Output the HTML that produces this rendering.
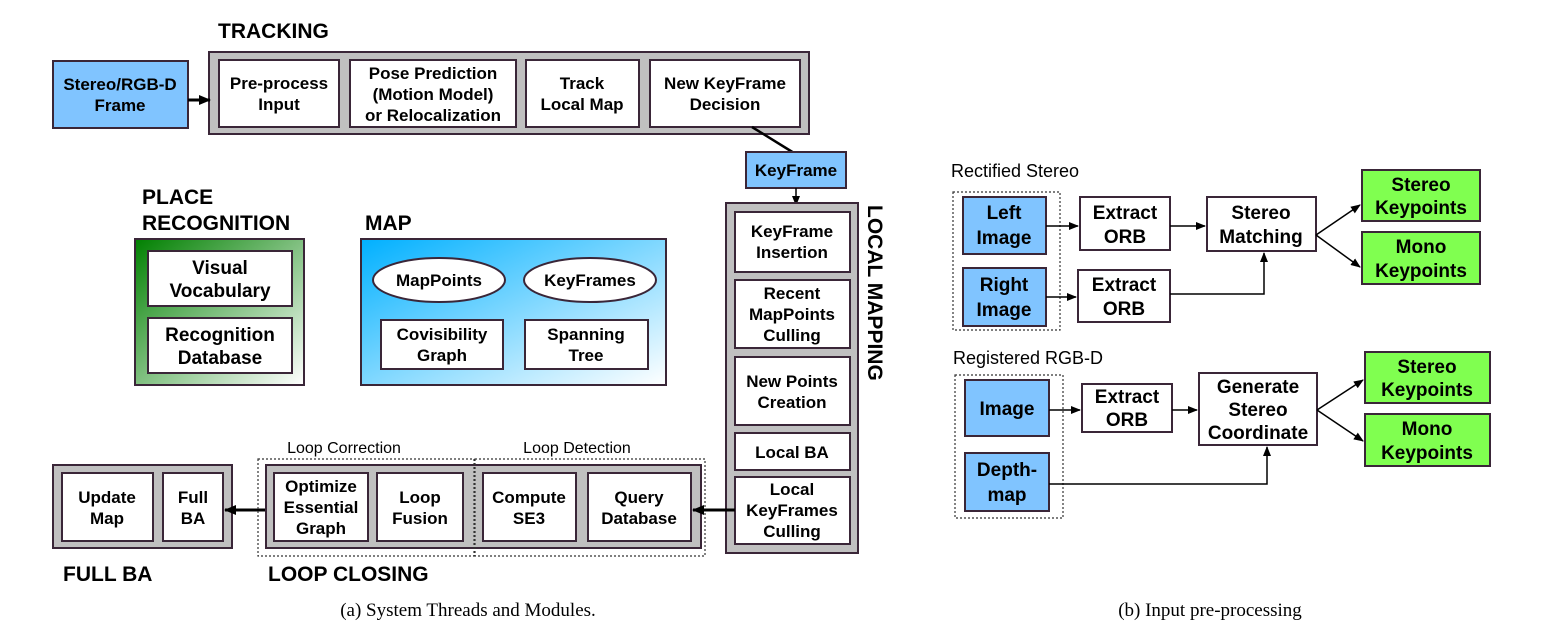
<!DOCTYPE html>
<html><head><meta charset="utf-8"><style>
body{margin:0;background:#fff}
svg text{font-family:"Liberation Sans",sans-serif}
.b{font-weight:bold;font-size:17px;text-anchor:middle}
.r{font-weight:bold;font-size:19px;text-anchor:middle}
.h{font-weight:bold;font-size:21px}
.w{fill:#fff;stroke:#3a2638;stroke-width:2}
.g{fill:#c0c0c0;stroke:#3a2638;stroke-width:2}
.bl{fill:#80c4ff;stroke:#3a2638;stroke-width:2}
.gr{fill:#80ff50;stroke:#3a2638;stroke-width:2}
.ln{stroke:#000;stroke-width:1.5;fill:none}
.dot{fill:none;stroke:#333;stroke-width:1.2;stroke-dasharray:2 2}
</style></head><body>
<svg width="1555" height="639" viewBox="0 0 1555 639" xmlns="http://www.w3.org/2000/svg">
<defs>
<marker id="a" markerWidth="10" markerHeight="8" refX="9" refY="4" orient="auto" markerUnits="userSpaceOnUse"><path d="M0,0 L10,4 L0,8 z" fill="#000"/></marker>
<marker id="a2" markerWidth="12" markerHeight="10" refX="11" refY="5" orient="auto" markerUnits="userSpaceOnUse"><path d="M0,0 L12,5 L0,10 z" fill="#000"/></marker>
<linearGradient id="gg" x1="0" y1="0" x2="1" y2="1"><stop offset="0" stop-color="#008000"/><stop offset="1" stop-color="#ffffff"/></linearGradient>
<linearGradient id="bg" x1="0" y1="0" x2="1" y2="1"><stop offset="0" stop-color="#00b0ff"/><stop offset="1" stop-color="#ffffff"/></linearGradient>
</defs>

<!-- TRACKING -->
<text class="h" x="218" y="38">TRACKING</text>
<rect class="g" x="209" y="52" width="600" height="82"/>
<rect class="bl" x="53" y="61" width="135" height="67"/>
<text class="b" x="120" y="90">Stereo/RGB-D</text><text class="b" x="120" y="111">Frame</text>
<line x1="188" y1="100" x2="210" y2="100" stroke="#000" stroke-width="3" marker-end="url(#a2)"/>
<rect class="w" x="219" y="60" width="120" height="67"/>
<text class="b" x="279" y="89">Pre-process</text><text class="b" x="279" y="110">Input</text>
<rect class="w" x="350" y="60" width="166" height="67"/>
<text class="b" x="433" y="79">Pose Prediction</text><text class="b" x="433" y="100">(Motion Model)</text><text class="b" x="433" y="121">or Relocalization</text>
<rect class="w" x="526" y="60" width="113" height="67"/>
<text class="b" x="582" y="89">Track</text><text class="b" x="582" y="110">Local Map</text>
<rect class="w" x="650" y="60" width="150" height="67"/>
<text class="b" x="725" y="89">New KeyFrame</text><text class="b" x="725" y="110">Decision</text>
<line x1="752" y1="127" x2="794" y2="153" stroke="#000" stroke-width="2.5"/>
<rect class="bl" x="746" y="152" width="100" height="36"/>
<text class="b" x="796" y="176">KeyFrame</text>
<line x1="796" y1="188" x2="796" y2="205" class="ln" marker-end="url(#a)"/>

<!-- LOCAL MAPPING -->
<rect class="g" x="726" y="203" width="132" height="350"/>
<rect class="w" x="735" y="212" width="115" height="60"/>
<text class="b" x="792" y="237">KeyFrame</text><text class="b" x="792" y="258">Insertion</text>
<rect class="w" x="735" y="280" width="115" height="68"/>
<text class="b" x="792" y="299">Recent</text><text class="b" x="792" y="320">MapPoints</text><text class="b" x="792" y="341">Culling</text>
<rect class="w" x="735" y="357" width="115" height="68"/>
<text class="b" x="792" y="387">New Points</text><text class="b" x="792" y="408">Creation</text>
<rect class="w" x="735" y="433" width="115" height="37"/>
<text class="b" x="792" y="458">Local BA</text>
<rect class="w" x="735" y="477" width="115" height="67"/>
<text class="b" x="792" y="495">Local</text><text class="b" x="792" y="516">KeyFrames</text><text class="b" x="792" y="537">Culling</text>
<text class="h" transform="translate(868,205) rotate(90)" x="0" y="0">LOCAL MAPPING</text>

<!-- PLACE RECOGNITION -->
<text class="h" x="142" y="204">PLACE</text><text class="h" x="142" y="230">RECOGNITION</text>
<rect x="135" y="239" width="169" height="146" fill="url(#gg)" stroke="#3a2638" stroke-width="2"/>
<rect class="w" x="148" y="251" width="144" height="55"/>
<text class="b" x="220" y="274" style="font-size:19px">Visual</text><text class="b" x="220" y="297" style="font-size:19px">Vocabulary</text>
<rect class="w" x="148" y="318" width="144" height="55"/>
<text class="b" x="220" y="341" style="font-size:19px">Recognition</text><text class="b" x="220" y="364" style="font-size:19px">Database</text>

<!-- MAP -->
<text class="h" x="365" y="230">MAP</text>
<rect x="361" y="239" width="305" height="146" fill="url(#bg)" stroke="#3a2638" stroke-width="2"/>
<ellipse class="w" cx="439" cy="280" rx="66" ry="22"/>
<text class="b" x="439" y="286">MapPoints</text>
<ellipse class="w" cx="590" cy="280" rx="66" ry="22"/>
<text class="b" x="590" y="286">KeyFrames</text>
<rect class="w" x="381" y="320" width="122" height="49"/>
<text class="b" x="442" y="340">Covisibility</text><text class="b" x="442" y="361">Graph</text>
<rect class="w" x="525" y="320" width="123" height="49"/>
<text class="b" x="586" y="340">Spanning</text><text class="b" x="586" y="361">Tree</text>

<!-- FULL BA -->
<rect class="g" x="53" y="465" width="179" height="83"/>
<rect class="w" x="62" y="473" width="91" height="68"/>
<text class="b" x="107" y="503">Update</text><text class="b" x="107" y="524">Map</text>
<rect class="w" x="163" y="473" width="60" height="68"/>
<text class="b" x="193" y="503">Full</text><text class="b" x="193" y="524">BA</text>
<line x1="266" y1="510" x2="225" y2="510" stroke="#000" stroke-width="3" marker-end="url(#a2)"/>
<text class="h" x="63" y="581">FULL BA</text>

<!-- LOOP CLOSING -->
<text x="344" y="453" style="font-size:16px;text-anchor:middle">Loop Correction</text>
<text x="577" y="453" style="font-size:16px;text-anchor:middle">Loop Detection</text>
<rect class="g" x="266" y="465" width="435" height="83"/>
<rect class="dot" x="258" y="459" width="216" height="97"/>
<rect class="dot" x="475" y="459" width="230" height="97"/>
<rect class="w" x="274" y="473" width="94" height="68"/>
<text class="b" x="321" y="492">Optimize</text><text class="b" x="321" y="513">Essential</text><text class="b" x="321" y="534">Graph</text>
<rect class="w" x="377" y="473" width="86" height="68"/>
<text class="b" x="420" y="503">Loop</text><text class="b" x="420" y="524">Fusion</text>
<rect class="w" x="483" y="473" width="93" height="68"/>
<text class="b" x="529" y="503">Compute</text><text class="b" x="529" y="524">SE3</text>
<rect class="w" x="588" y="473" width="103" height="68"/>
<text class="b" x="639" y="503">Query</text><text class="b" x="639" y="524">Database</text>
<line x1="735" y1="510" x2="693" y2="510" stroke="#000" stroke-width="3" marker-end="url(#a2)"/>
<text class="h" x="268" y="581">LOOP CLOSING</text>

<text x="468" y="616" style="font-family:'Liberation Serif',serif;font-size:19px;text-anchor:middle">(a) System Threads and Modules.</text>
<text x="1210" y="616" style="font-family:'Liberation Serif',serif;font-size:19px;text-anchor:middle">(b) Input pre-processing</text>

<!-- RECTIFIED STEREO -->
<text x="951" y="177" style="font-size:18px">Rectified Stereo</text>
<rect class="dot" x="953" y="192" width="107" height="138"/>
<rect class="bl" x="963" y="197" width="83" height="57"/>
<text class="r" x="1004" y="219">Left</text><text class="r" x="1004" y="244">Image</text>
<rect class="bl" x="963" y="268" width="83" height="58"/>
<text class="r" x="1004" y="291">Right</text><text class="r" x="1004" y="316">Image</text>
<rect class="w" x="1080" y="197" width="90" height="53"/>
<text class="r" x="1125" y="219">Extract</text><text class="r" x="1125" y="243">ORB</text>
<rect class="w" x="1078" y="270" width="92" height="52"/>
<text class="r" x="1124" y="291">Extract</text><text class="r" x="1124" y="315">ORB</text>
<rect class="w" x="1207" y="197" width="109" height="54"/>
<text class="r" x="1261" y="219">Stereo</text><text class="r" x="1261" y="243">Matching</text>
<rect class="gr" x="1362" y="170" width="118" height="51"/>
<text class="r" x="1421" y="191">Stereo</text><text class="r" x="1421" y="214">Keypoints</text>
<rect class="gr" x="1362" y="232" width="118" height="52"/>
<text class="r" x="1421" y="253">Mono</text><text class="r" x="1421" y="277">Keypoints</text>
<line class="ln" x1="1046" y1="226" x2="1078" y2="226" marker-end="url(#a)"/>
<line class="ln" x1="1170" y1="226" x2="1205" y2="226" marker-end="url(#a)"/>
<line class="ln" x1="1046" y1="297" x2="1076" y2="297" marker-end="url(#a)"/>
<polyline class="ln" points="1170,294 1264,294 1264,253" marker-end="url(#a)"/>
<line class="ln" x1="1316" y1="235" x2="1360" y2="205" marker-end="url(#a)"/>
<line class="ln" x1="1316" y1="235" x2="1360" y2="267" marker-end="url(#a)"/>

<!-- REGISTERED RGB-D -->
<text x="953" y="364" style="font-size:18px">Registered RGB-D</text>
<rect class="dot" x="955" y="375" width="108" height="143"/>
<rect class="bl" x="965" y="380" width="84" height="56"/>
<text class="r" x="1007" y="415">Image</text>
<rect class="bl" x="965" y="453" width="84" height="58"/>
<text class="r" x="1007" y="476">Depth-</text><text class="r" x="1007" y="501">map</text>
<rect class="w" x="1082" y="384" width="90" height="48"/>
<text class="r" x="1127" y="403">Extract</text><text class="r" x="1127" y="426">ORB</text>
<rect class="w" x="1199" y="373" width="118" height="72"/>
<text class="r" x="1258" y="393">Generate</text><text class="r" x="1258" y="416">Stereo</text><text class="r" x="1258" y="439">Coordinate</text>
<rect class="gr" x="1365" y="352" width="125" height="51"/>
<text class="r" x="1427" y="373">Stereo</text><text class="r" x="1427" y="396">Keypoints</text>
<rect class="gr" x="1365" y="414" width="125" height="52"/>
<text class="r" x="1427" y="435">Mono</text><text class="r" x="1427" y="459">Keypoints</text>
<line class="ln" x1="1049" y1="410" x2="1080" y2="410" marker-end="url(#a)"/>
<line class="ln" x1="1172" y1="410" x2="1197" y2="410" marker-end="url(#a)"/>
<polyline class="ln" points="1049,484 1267,484 1267,447" marker-end="url(#a)"/>
<line class="ln" x1="1317" y1="410" x2="1363" y2="380" marker-end="url(#a)"/>
<line class="ln" x1="1317" y1="410" x2="1363" y2="441" marker-end="url(#a)"/>
</svg>
</body></html>
